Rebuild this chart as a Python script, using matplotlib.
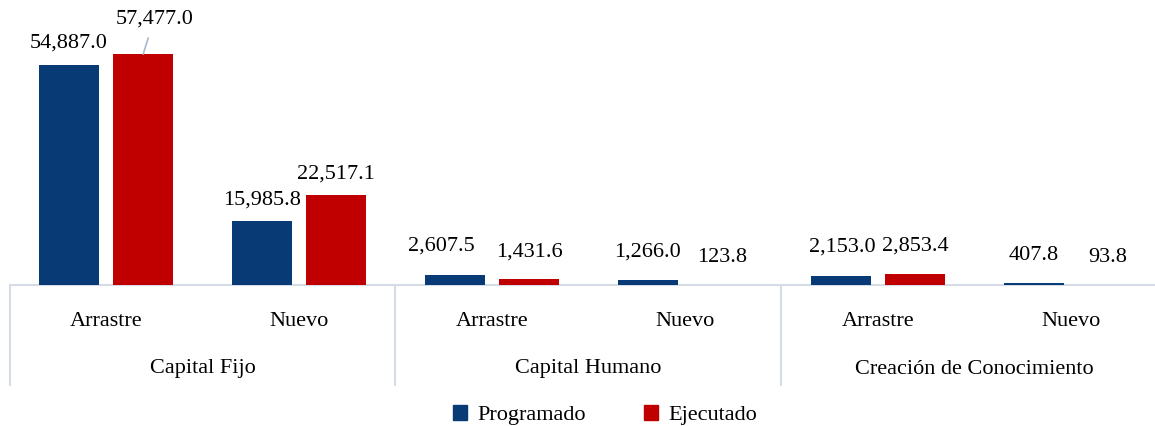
import matplotlib.pyplot as plt
import matplotlib.transforms as mtransforms
from matplotlib.patches import Patch
import numpy as np

plt.rcParams['font.family'] = ['Liberation Serif', 'DejaVu Serif']

groups = ["Capital Fijo", "Capital Humano", "Creación de Conocimiento"]
subcats = ["Arrastre", "Nuevo"] * 3
programado = [54887.0, 15985.8, 2607.5, 1266.0, 2153.0, 407.8]
ejecutado = [57477.0, 22517.1, 1431.6, 123.8, 2853.4, 93.8]

# label offsets in pixels (dx, dy) from bar top centre, as placed in the original
off_prog = [(0, 21), (0, 21), (-13, 28), (0, 28), (1, 29), (0, 28)]
off_ejec = [(11, 35), (0, 21), (0, 27), (0, 27), (0, 27), (0, 27)]

BLUE = '#083A75'
RED = '#C00000'
GRID = '#D6DCE5'

fig = plt.figure(figsize=(11.55, 4.26), dpi=100)
ax = fig.add_axes([9.5 / 1155, 141 / 426, 1158 / 1155, 241 / 426])

x = np.arange(len(subcats))
w = 0.31
gap = 0.0375
b1 = ax.bar(x - w / 2 - gap, programado, w, color=BLUE, zorder=3)
b2 = ax.bar(x + w / 2 + gap, ejecutado, w, color=RED, zorder=3)

ax.set_xlim(-0.5, 5.5)
ax.set_ylim(0, 60000)
ax.axis('off')

for bars, vals, offs in [(b1, programado, off_prog), (b2, ejecutado, off_ejec)]:
    for rect, v, (dx, dy) in zip(bars, vals, offs):
        cx = rect.get_x() + rect.get_width() / 2
        top = rect.get_height()
        if dy > 30:
            ax.annotate(f"{v:,.1f}", xy=(cx, top), xytext=(dx, dy),
                        textcoords='offset pixels', ha='center', va='center',
                        fontsize=16,
                        arrowprops=dict(arrowstyle='-', color='#A9B8CC', lw=1.2,
                                        shrinkA=5, shrinkB=0))
        else:
            ax.annotate(f"{v:,.1f}", xy=(cx, top), xytext=(dx, dy),
                        textcoords='offset pixels', ha='center', va='center',
                        fontsize=16)

# category axis
trans = mtransforms.blended_transform_factory(ax.transData, ax.transAxes)
ax.plot([-0.5, 5.5], [0, 0], transform=trans, color=GRID, lw=1.5,
        clip_on=False, zorder=2)
for sx in [-0.5, 1.5, 3.5, 5.5]:
    ax.plot([sx, sx], [0, -100 / 241], transform=trans, color=GRID, lw=1.5,
            clip_on=False)
for xi, s in zip(x, subcats):
    ax.text(xi, -36 / 241, s, transform=trans, ha='center', va='center',
            fontsize=16)
for gi, g in enumerate(groups):
    ax.text(2 * gi + 0.5, -84 / 241, g, transform=trans, ha='center',
            va='center', fontsize=16)

handles = [Patch(color=BLUE, label='Programado'), Patch(color=RED, label='Ejecutado')]
fig.legend(handles=handles, loc='center', bbox_to_anchor=(605 / 1155, 1 - 415 / 426),
           ncol=2, frameon=False, fontsize=16, handlelength=0.65,
           handleheight=0.65, handletextpad=0.45, columnspacing=2.6)

fig.savefig('out.png', dpi=100)
